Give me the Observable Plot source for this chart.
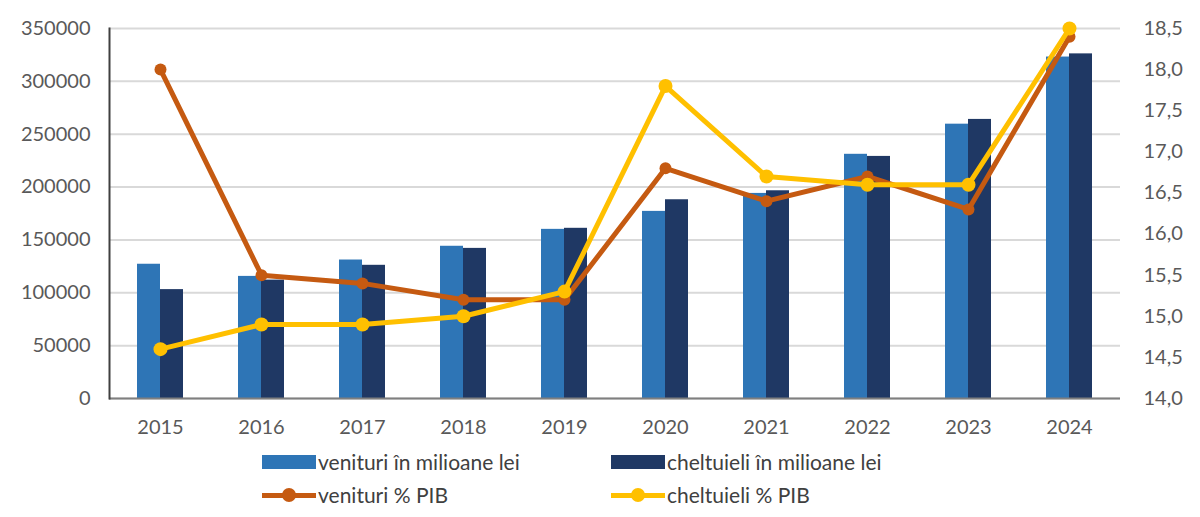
<!DOCTYPE html>
<html>
<head>
<meta charset="utf-8">
<script src="https://cdn.jsdelivr.net/npm/d3@7"></script>
<script src="https://cdn.jsdelivr.net/npm/@observablehq/plot@0.6"></script>
<style>
  html, body { margin: 0; padding: 0; background: #fff; }
  body { width: 1200px; height: 517px; overflow: hidden; font-family: Lato, "Noto Sans", sans-serif; }
  #legend { position: relative; height: 72px; font-size: 21px; color: #404040; }
  .item { position: absolute; display: flex; align-items: center; height: 33px; }
  .sw { display: inline-block; width: 54px; height: 14px; margin-right: 2px; }
  .ln { position: relative; display: inline-block; width: 54px; height: 14px; margin-right: 2px; }
  .ln::before { content: ""; position: absolute; left: 0; right: 0; top: 5px; height: 5px; background: var(--c); }
  .ln::after { content: ""; position: absolute; left: 20px; top: 0px; width: 14px; height: 14px; border-radius: 50%; background: var(--c); }
</style>
</head>
<body>
<div id="chart"></div>
<div id="legend">
  <div class="item" style="left:262px; top:0px;"><span class="sw" style="background:#2E75B6"></span>venituri în milioane lei</div>
  <div class="item" style="left:611px; top:0px;"><span class="sw" style="background:#1F3864"></span>cheltuieli în milioane lei</div>
  <div class="item" style="left:262px; top:33px;"><span class="ln" style="--c:#C55A11"></span>venituri % PIB</div>
  <div class="item" style="left:611px; top:33px;"><span class="ln" style="--c:#FFC000"></span>cheltuieli % PIB</div>
</div>
<script>
const years = ["2015","2016","2017","2018","2019","2020","2021","2022","2023","2024"];
const venituri = [127000, 115500, 131000, 144000, 160000, 177000, 194000, 231000, 259500, 323000];
const cheltuieli = [103000, 112000, 126000, 142000, 161000, 188000, 196500, 229000, 264000, 326000];
const venituriPIB = [18.0, 15.5, 15.4, 15.2, 15.2, 16.8, 16.4, 16.7, 16.3, 18.4];
const cheltuieliPIB = [14.6, 14.9, 14.9, 15.0, 15.3, 17.8, 16.7, 16.6, 16.6, 18.5];
const leftTicks = [0, 50000, 100000, 150000, 200000, 250000, 300000, 350000];
const rightTicks = [14.0, 14.5, 15.0, 15.5, 16.0, 16.5, 17.0, 17.5, 18.0, 18.5];

const LMAX = 350000, RMIN = 14, RMAX = 18.5;
const toLeft = p => (p - RMIN) / (RMAX - RMIN) * LMAX;
const fromLeft = v => RMIN + v / LMAX * (RMAX - RMIN);

const rowsV = years.map((y, i) => ({year: y, v: venituri[i]}));
const rowsC = years.map((y, i) => ({year: y, v: cheltuieli[i]}));
const lineV = years.map((y, i) => ({year: y, p: toLeft(venituriPIB[i])}));
const lineC = years.map((y, i) => ({year: y, p: toLeft(cheltuieliPIB[i])}));

const half = 23;
const chart = Plot.plot({
  width: 1200,
  height: 445,
  marginLeft: 109,
  marginRight: 80,
  marginTop: 28,
  marginBottom: 47,
  style: {fontFamily: "Lato, 'Noto Sans', sans-serif", fontSize: "20px", color: "#595959", background: "#fff"},
  x: {type: "band", domain: years, paddingInner: 0.545, paddingOuter: 0.2725},
  y: {domain: [0, LMAX]},
  marks: [
    Plot.gridY(leftTicks, {stroke: "#d9d9d9", strokeOpacity: 1, strokeWidth: 2}),
    Plot.axisY(leftTicks, {anchor: "left", tickSize: 0, tickPadding: 19, tickFormat: d => String(d), label: null, fill: "#595959"}),
    Plot.axisY(rightTicks.map(toLeft), {anchor: "right", tickSize: 0, tickPadding: 23, tickFormat: d => fromLeft(d).toFixed(1).replace(".", ","), label: null, fill: "#595959"}),
    Plot.axisX({anchor: "bottom", tickSize: 0, tickPadding: 21, label: null, fill: "#595959"}),
    Plot.barY(rowsV, {x: "year", y: "v", fill: "#2E75B6", insetRight: half}),
    Plot.barY(rowsC, {x: "year", y: "v", fill: "#1F3864", insetLeft: half}),
    Plot.ruleY([0], {stroke: "#7f7f7f", strokeWidth: 2}),
    Plot.frame({anchor: "left", stroke: "#404040", strokeWidth: 2}),
    Plot.line(lineV, {x: "year", y: "p", stroke: "#C55A11", strokeWidth: 5}),
    Plot.dot(lineV, {x: "year", y: "p", fill: "#C55A11", r: 6}),
    Plot.line(lineC, {x: "year", y: "p", stroke: "#FFC000", strokeWidth: 5}),
    Plot.dot(lineC, {x: "year", y: "p", fill: "#FFC000", r: 7})
  ]
});
document.getElementById("chart").appendChild(chart);
</script>
</body>
</html>
